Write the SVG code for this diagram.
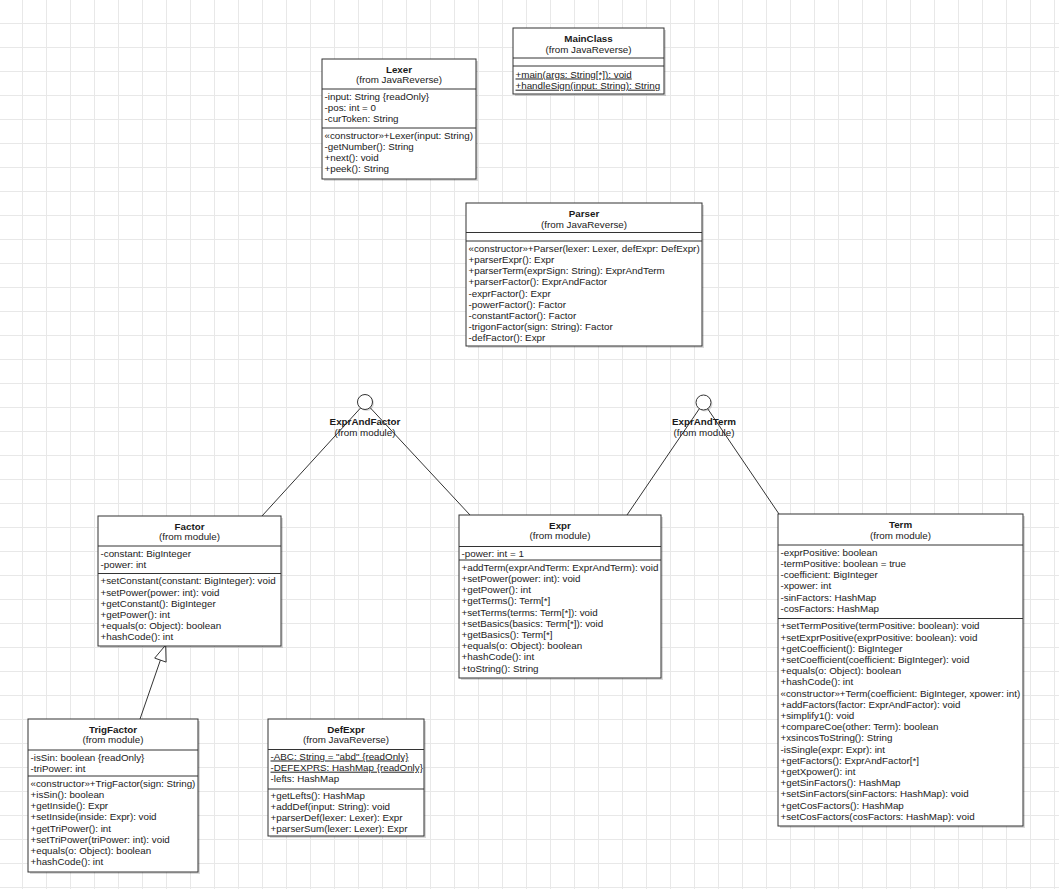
<svg xmlns="http://www.w3.org/2000/svg" width="1059" height="889" viewBox="0 0 1059 889">
<defs>
<pattern id="grid" x="22" y="23" width="24" height="24" patternUnits="userSpaceOnUse">
<path d="M0.5 0V24M0 0.5H24" stroke="#e8e8e8" stroke-width="1" fill="none"/>
</pattern>
<style>
.box{fill:#fff;stroke:#333;stroke-width:1}
.sh{fill:#000;opacity:.15}
.sep{stroke:#333;stroke-width:1}
text{font-family:"Liberation Sans",Arial,sans-serif;font-size:9.8px;fill:#1a1a1a}
.n{font-weight:bold;text-anchor:middle}
.f{text-anchor:middle}
.u{text-decoration:underline}
.ln{stroke:#333;stroke-width:1;fill:none}
</style>
</defs>
<rect width="1059" height="889" fill="#fff"/>
<rect width="1059" height="889" fill="url(#grid)"/>

<g id="connectors">
<line class="ln" x1="361" y1="407.5" x2="262" y2="516"/>
<line class="ln" x1="370" y1="407.5" x2="470" y2="515"/>
<line class="ln" x1="699.5" y1="408.5" x2="627" y2="515"/>
<line class="ln" x1="707.5" y1="408.5" x2="779" y2="514"/>
<line class="ln" x1="160.4" y1="660.1" x2="140" y2="719"/>
<polygon points="165.7,645 166.1,662.1 154.7,658.1" fill="#fff" stroke="#333" stroke-width="1"/>
</g>

<g id="ExprAndFactor">
<circle cx="366.5" cy="403.5" r="7.5" class="sh"/>
<circle cx="365" cy="402" r="7.5" class="box"/>
<text x="365" y="425" class="n">ExprAndFactor</text>
<text x="365" y="436" class="f">(from module)</text>
</g>

<g id="ExprAndTerm">
<circle cx="705" cy="404" r="7.5" class="sh"/>
<circle cx="703.5" cy="402.5" r="7.5" class="box"/>
<text x="704" y="425" class="n">ExprAndTerm</text>
<text x="704" y="436" class="f">(from module)</text>
</g>

<g id="Lexer">
<rect x="324" y="61" width="154" height="120" class="sh"/>
<rect x="322" y="59" width="154" height="120" class="box"/>
<line x1="322" y1="89" x2="476" y2="89" class="sep"/>
<line x1="322" y1="128" x2="476" y2="128" class="sep"/>
<text x="399" y="72.5" class="n">Lexer</text>
<text x="399" y="83.3" class="f">(from JavaReverse)</text>
<text x="324.5" y="99.8">-input: String {readOnly}</text>
<text x="324.5" y="111">-pos: int = 0</text>
<text x="324.5" y="122.2">-curToken: String</text>
<text x="324.5" y="138.8">«constructor»+Lexer(input: String)</text>
<text x="324.5" y="150">-getNumber(): String</text>
<text x="324.5" y="161.2">+next(): void</text>
<text x="324.5" y="172.4">+peek(): String</text>
</g>

<g id="MainClass">
<rect x="515" y="30" width="151" height="66" class="sh"/>
<rect x="513" y="28" width="151" height="66" class="box"/>
<line x1="513" y1="58" x2="664" y2="58" class="sep"/>
<line x1="513" y1="66" x2="664" y2="66" class="sep"/>
<text x="588.5" y="42" class="n">MainClass</text>
<text x="588.5" y="53" class="f">(from JavaReverse)</text>
<text x="515.5" y="77.5" class="u">+main(args: String[*]): void</text>
<text x="515.5" y="88.7" class="u">+handleSign(input: String): String</text>
</g>

<g id="Parser">
<rect x="468" y="205" width="236" height="143" class="sh"/>
<rect x="466" y="203" width="236" height="143" class="box"/>
<line x1="466" y1="232.5" x2="702" y2="232.5" class="sep"/>
<line x1="466" y1="241" x2="702" y2="241" class="sep"/>
<text x="584" y="216.8" class="n">Parser</text>
<text x="584" y="227.6" class="f">(from JavaReverse)</text>
<text x="468.5" y="251.8">«constructor»+Parser(lexer: Lexer, defExpr: DefExpr)</text>
<text x="468.5" y="263">+parserExpr(): Expr</text>
<text x="468.5" y="274.2">+parserTerm(exprSign: String): ExprAndTerm</text>
<text x="468.5" y="285.4">+parserFactor(): ExprAndFactor</text>
<text x="468.5" y="296.6">-exprFactor(): Expr</text>
<text x="468.5" y="307.8">-powerFactor(): Factor</text>
<text x="468.5" y="319">-constantFactor(): Factor</text>
<text x="468.5" y="330.2">-trigonFactor(sign: String): Factor</text>
<text x="468.5" y="341.4">-defFactor(): Expr</text>
</g>

<g id="Factor">
<rect x="100" y="518" width="183" height="130" class="sh"/>
<rect x="98" y="516" width="183" height="130" class="box"/>
<line x1="98" y1="546" x2="281" y2="546" class="sep"/>
<line x1="98" y1="573.5" x2="281" y2="573.5" class="sep"/>
<text x="189.5" y="529.5" class="n">Factor</text>
<text x="189.5" y="540.3" class="f">(from module)</text>
<text x="100.5" y="556.8">-constant: BigInteger</text>
<text x="100.5" y="568">-power: int</text>
<text x="100.5" y="584.3">+setConstant(constant: BigInteger): void</text>
<text x="100.5" y="595.5">+setPower(power: int): void</text>
<text x="100.5" y="606.7">+getConstant(): BigInteger</text>
<text x="100.5" y="617.9">+getPower(): int</text>
<text x="100.5" y="629.1">+equals(o: Object): boolean</text>
<text x="100.5" y="640.3">+hashCode(): int</text>
</g>

<g id="Expr">
<rect x="461" y="517" width="202" height="163" class="sh"/>
<rect x="459" y="515" width="202" height="163" class="box"/>
<line x1="459" y1="546.5" x2="661" y2="546.5" class="sep"/>
<line x1="459" y1="560" x2="661" y2="560" class="sep"/>
<text x="560" y="528.5" class="n">Expr</text>
<text x="560" y="539.3" class="f">(from module)</text>
<text x="461.5" y="557.3">-power: int = 1</text>
<text x="461.5" y="570.8">+addTerm(exprAndTerm: ExprAndTerm): void</text>
<text x="461.5" y="582">+setPower(power: int): void</text>
<text x="461.5" y="593.2">+getPower(): int</text>
<text x="461.5" y="604.4">+getTerms(): Term[*]</text>
<text x="461.5" y="615.6">+setTerms(terms: Term[*]): void</text>
<text x="461.5" y="626.8">+setBasics(basics: Term[*]): void</text>
<text x="461.5" y="638">+getBasics(): Term[*]</text>
<text x="461.5" y="649.2">+equals(o: Object): boolean</text>
<text x="461.5" y="660.4">+hashCode(): int</text>
<text x="461.5" y="671.6">+toString(): String</text>
</g>

<g id="Term">
<rect x="780" y="516" width="245" height="312" class="sh"/>
<rect x="778" y="514" width="245" height="312" class="box"/>
<line x1="778" y1="545" x2="1023" y2="545" class="sep"/>
<line x1="778" y1="618.5" x2="1023" y2="618.5" class="sep"/>
<text x="900.5" y="527.8" class="n">Term</text>
<text x="900.5" y="538.6" class="f">(from module)</text>
<text x="780.5" y="555.8">-exprPositive: boolean</text>
<text x="780.5" y="567">-termPositive: boolean = true</text>
<text x="780.5" y="578.2">-coefficient: BigInteger</text>
<text x="780.5" y="589.4">-xpower: int</text>
<text x="780.5" y="600.6">-sinFactors: HashMap</text>
<text x="780.5" y="611.8">-cosFactors: HashMap</text>
<text x="780.5" y="629.3">+setTermPositive(termPositive: boolean): void</text>
<text x="780.5" y="640.5">+setExprPositive(exprPositive: boolean): void</text>
<text x="780.5" y="651.7">+getCoefficient(): BigInteger</text>
<text x="780.5" y="662.9">+setCoefficient(coefficient: BigInteger): void</text>
<text x="780.5" y="674.1">+equals(o: Object): boolean</text>
<text x="780.5" y="685.3">+hashCode(): int</text>
<text x="780.5" y="696.5">«constructor»+Term(coefficient: BigInteger, xpower: int)</text>
<text x="780.5" y="707.7">+addFactors(factor: ExprAndFactor): void</text>
<text x="780.5" y="718.9">+simplify1(): void</text>
<text x="780.5" y="730.1">+compareCoe(other: Term): boolean</text>
<text x="780.5" y="741.3">+xsincosToString(): String</text>
<text x="780.5" y="752.5">-isSingle(expr: Expr): int</text>
<text x="780.5" y="763.7">+getFactors(): ExprAndFactor[*]</text>
<text x="780.5" y="774.9">+getXpower(): int</text>
<text x="780.5" y="786.1">+getSinFactors(): HashMap</text>
<text x="780.5" y="797.3">+setSinFactors(sinFactors: HashMap): void</text>
<text x="780.5" y="808.5">+getCosFactors(): HashMap</text>
<text x="780.5" y="819.7">+setCosFactors(cosFactors: HashMap): void</text>
</g>

<g id="TrigFactor">
<rect x="30" y="721" width="170" height="153" class="sh"/>
<rect x="28" y="719" width="170" height="153" class="box"/>
<line x1="28" y1="750" x2="198" y2="750" class="sep"/>
<line x1="28" y1="776" x2="198" y2="776" class="sep"/>
<text x="113" y="732.5" class="n">TrigFactor</text>
<text x="113" y="743.3" class="f">(from module)</text>
<text x="30.5" y="760.8">-isSin: boolean {readOnly}</text>
<text x="30.5" y="772">-triPower: int</text>
<text x="30.5" y="786.8">«constructor»+TrigFactor(sign: String)</text>
<text x="30.5" y="798">+isSin(): boolean</text>
<text x="30.5" y="809.2">+getInside(): Expr</text>
<text x="30.5" y="820.4">+setInside(inside: Expr): void</text>
<text x="30.5" y="831.6">+getTriPower(): int</text>
<text x="30.5" y="842.8">+setTriPower(triPower: int): void</text>
<text x="30.5" y="854">+equals(o: Object): boolean</text>
<text x="30.5" y="865.2">+hashCode(): int</text>
</g>

<g id="DefExpr">
<rect x="270" y="721" width="156" height="117" class="sh"/>
<rect x="268" y="719" width="156" height="117" class="box"/>
<line x1="268" y1="749.5" x2="424" y2="749.5" class="sep"/>
<line x1="268" y1="789" x2="424" y2="789" class="sep"/>
<text x="346" y="732.5" class="n">DefExpr</text>
<text x="346" y="743.3" class="f">(from JavaReverse)</text>
<text x="270.5" y="759.5" class="u">-ABC: String = "abd" {readOnly}</text>
<text x="270.5" y="770.7" class="u">-DEFEXPRS: HashMap {readOnly}</text>
<text x="270.5" y="781.9">-lefts: HashMap</text>
<text x="270.5" y="798.8">+getLefts(): HashMap</text>
<text x="270.5" y="809.8">+addDef(input: String): void</text>
<text x="270.5" y="820.8">+parserDef(lexer: Lexer): Expr</text>
<text x="270.5" y="831.8">+parserSum(lexer: Lexer): Expr</text>
</g>
</svg>
